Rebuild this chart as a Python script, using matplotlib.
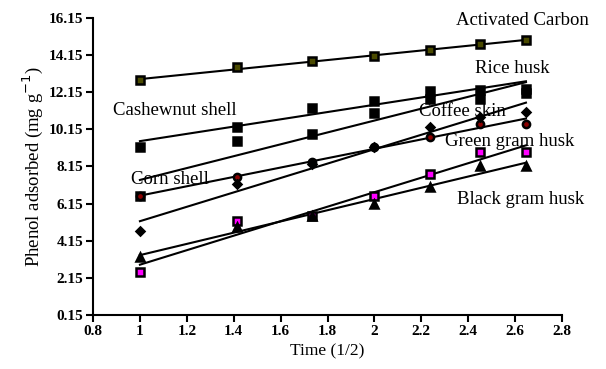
import numpy as np
import matplotlib
matplotlib.use('Agg')
import matplotlib.pyplot as plt

# Time^(1/2) values
time_sqrt = [1.0, 1.414, 1.732, 2.0, 2.236, 2.449, 2.646]

# Phenol adsorbed (mg/g)
activated_carbon = [12.79, 13.49, 13.82, 14.09, 14.42, 14.74, 14.96]
cashewnut_shell = [9.2, 10.3, 11.3, 11.7, 12.2, 12.25, 12.35]
rice_husk = [6.55, 9.5, 9.9, 11.05, 11.8, 11.8, 12.1]
coffee_skin = [6.55, 7.58, 8.4, 9.2, 9.75, 10.46, 10.46]
corn_shell = [4.65, 7.2, 8.3, 9.2, 10.3, 10.8, 11.1]
green_gram_husk = [2.48, 5.2, 5.47, 6.55, 7.74, 8.94, 8.94]
black_gram_husk = [3.3, 4.9, 5.5, 6.12, 7.04, 8.18, 8.18]

plt.rcParams['font.family'] = ['Liberation Serif', 'DejaVu Serif']

fig = plt.figure(figsize=(6.06, 3.69), dpi=100)
ax = fig.add_axes([0.1535, 0.1463, 0.774, 0.805])

x = np.array(time_sqrt)
# (values, marker, face colour, label, label x, label y)
series = [
    (activated_carbon, 's', '#4a4a00', 'Activated Carbon', 2.63, 16.0),
    (cashewnut_shell, 's', 'black', 'Cashewnut shell', 1.15, 11.16),
    (rice_husk, 's', 'black', 'Rice husk', 2.587, 13.44),
    (coffee_skin, 'o', '#8b0000', 'Coffee skin', 2.374, 11.1),
    (corn_shell, 'D', 'black', 'Corn shell', 1.128, 7.47),
    (green_gram_husk, 's', 'magenta', 'Green gram husk', 2.578, 9.48),
    (black_gram_husk, '^', 'black', 'Black gram husk', 2.625, 6.39),
]

for vals, mk, fc, name, tx, ty in series:
    y = np.array(vals)
    ms = 4.2 if mk == 'D' else 5.2
    ax.plot(x, y, linestyle='none', marker=mk, markersize=ms,
            markerfacecolor=fc, markeredgecolor='black', markeredgewidth=1.8,
            zorder=3)
    # linear fit line
    p = np.polyfit(x, y, 1)
    ax.plot(x[[0, -1]], np.polyval(p, x[[0, -1]]), color='black', lw=1.5,
            zorder=2)
    ax.text(tx, ty, name, ha='center', va='center', fontsize=13.5, zorder=4)

ax.set_xlim(0.8, 2.8)
ax.set_ylim(0.15, 16.15)
ax.set_xticks(np.arange(0.8, 2.81, 0.2))
ax.set_xticklabels(['0.8', '1', '1.2', '1.4', '1.6', '1.8', '2', '2.2',
                    '2.4', '2.6', '2.8'])
ax.set_yticks(np.arange(0.15, 16.16, 2))
ax.set_yticklabels(['%.2f' % v for v in np.arange(0.15, 16.16, 2)])
for lbl in ax.get_xticklabels() + ax.get_yticklabels():
    lbl.set_fontweight('bold')
    lbl.set_fontsize(11)

ax.spines['top'].set_visible(False)
ax.spines['right'].set_visible(False)
ax.spines['left'].set_linewidth(1.5)
ax.spines['bottom'].set_linewidth(1.5)
ax.tick_params(direction='out', length=5, width=1.5, pad=2)

ax.set_xlabel('Time (1/2)', fontsize=12.5, labelpad=4)
ax.set_ylabel('Phenol adsorbed (mg g$^{-1}$)', fontsize=13.5, labelpad=3)

fig.savefig('out.png', dpi=100)
